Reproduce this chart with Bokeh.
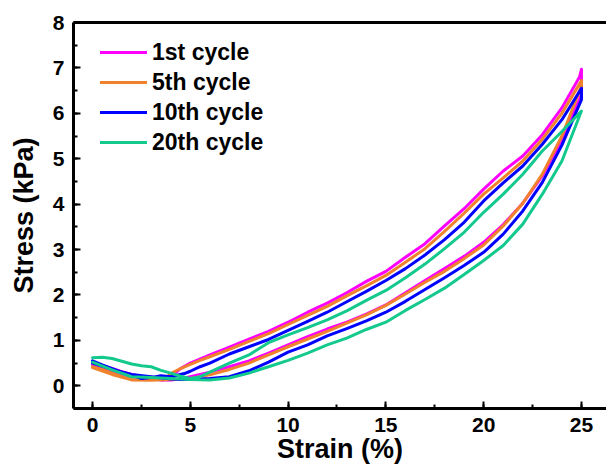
from bokeh.plotting import figure
from bokeh.models import (Range1d, SingleIntervalTicker, LinearAxis, FixedTicker,
                          Legend, LegendItem)
from bokeh.embed import file_html
from bokeh.resources import INLINE

# ---------------- data ----------------
series_names = ["1st cycle", "5th cycle", "10th cycle", "20th cycle"]
series_colors = ["#FF00FF", "#F0822E", "#0000FF", "#14C98E"]

unload_strain = [25, 24, 23, 22, 21, 20, 19, 18, 17, 16, 15, 14, 13, 12, 11, 10, 9, 8, 7, 6, 5,
                 4.5, 4, 3, 2, 1, 0]

load_strain_1st = [0, 0.5, 1, 1.5, 2, 2.5, 3, 3.6, 4, 4.5, 5, 6, 7, 8, 9, 10, 11, 12, 13, 14,
                   15, 16, 17, 18, 19, 20, 21, 22, 23, 24, 24.9, 25]
load_stress_1st = [0.50, 0.44, 0.38, 0.31, 0.25, 0.20, 0.16, 0.12, 0.20, 0.38, 0.50, 0.68, 0.85,
                   1.03, 1.20, 1.40, 1.62, 1.82, 2.05, 2.30, 2.52, 2.83, 3.13, 3.52, 3.90, 4.33,
                   4.73, 5.06, 5.53, 6.12, 6.80, 6.97]
unload_stress_1st = [6.41, 5.42, 4.62, 4.02, 3.55, 3.16, 2.85, 2.58, 2.32, 2.05, 1.78, 1.58, 1.40,
                     1.25, 1.08, 0.90, 0.72, 0.55, 0.42, 0.30, 0.20, 0.15, 0.13, 0.15, 0.20, 0.32,
                     0.47]

load_strain_5th = [0, 0.5, 1, 1.5, 2, 2.5, 3, 3.7, 4, 4.5, 5, 5.5, 6, 7, 8, 9, 10, 11, 12, 13,
                   14, 15, 16, 17, 18, 19, 20, 21, 22, 23, 24, 25]
load_stress_5th = [0.42, 0.36, 0.28, 0.20, 0.14, 0.12, 0.12, 0.15, 0.27, 0.38, 0.47, 0.56, 0.64,
                   0.80, 0.98, 1.15, 1.35, 1.55, 1.75, 1.98, 2.20, 2.43, 2.72, 3.02, 3.40, 3.80,
                   4.22, 4.58, 4.95, 5.43, 6.00, 6.72]
unload_stress_5th = [6.60, 5.50, 4.66, 4.02, 3.52, 3.10, 2.80, 2.52, 2.28, 2.02, 1.77, 1.56, 1.38,
                     1.20, 1.03, 0.86, 0.68, 0.50, 0.36, 0.24, 0.16, 0.14, 0.14, 0.12, 0.13, 0.25,
                     0.40]

load_strain_10th = [0, 0.5, 1, 1.5, 2, 2.5, 3, 3.5, 4, 4.7, 5, 5.5, 6, 7, 8, 9, 10, 11, 12, 13,
                    14, 15, 16, 17, 18, 19, 20, 21, 22, 23, 24, 25]
load_stress_10th = [0.55, 0.46, 0.38, 0.30, 0.24, 0.16, 0.18, 0.22, 0.20, 0.27, 0.32, 0.42, 0.50,
                    0.70, 0.86, 1.02, 1.22, 1.42, 1.62, 1.85, 2.08, 2.32, 2.58, 2.88, 3.22, 3.60,
                    4.07, 4.47, 4.84, 5.32, 5.86, 6.55]
unload_stress_10th = [6.30, 5.30, 4.48, 3.85, 3.34, 2.94, 2.65, 2.38, 2.12, 1.86, 1.62, 1.43, 1.26,
                      1.10, 0.90, 0.74, 0.52, 0.33, 0.20, 0.16, 0.14, 0.14, 0.15, 0.20, 0.25, 0.36,
                      0.50]

load_strain_20th = [0, 0.5, 1, 1.5, 2, 2.5, 3, 3.5, 4, 4.5, 5, 5.5, 6, 7, 8, 9, 10, 11, 12, 13,
                    14, 15, 16, 17, 18, 19, 20, 21, 22, 23, 24, 25]
load_stress_20th = [0.62, 0.63, 0.60, 0.54, 0.48, 0.44, 0.42, 0.34, 0.28, 0.21, 0.16, 0.20, 0.30,
                    0.50, 0.68, 0.95, 1.12, 1.28, 1.45, 1.65, 1.88, 2.10, 2.38, 2.68, 3.02, 3.38,
                    3.82, 4.22, 4.66, 5.17, 5.60, 6.05]
unload_stress_20th = [6.05, 4.95, 4.22, 3.56, 3.09, 2.76, 2.45, 2.15, 1.90, 1.66, 1.40, 1.24, 1.05,
                      0.90, 0.72, 0.56, 0.42, 0.28, 0.17, 0.13, 0.14, 0.15, 0.16, 0.18, 0.20, 0.35,
                      0.52]

x_tick_interval = 5
y_tick_interval = 1
x_title = "Strain (%)"
y_title = "Stress (kPa)"

FONT = "Liberation Sans"

p = figure(width=606, height=466, x_range=Range1d(-0.971, 26.28), y_range=Range1d(-0.5, 8),
           output_backend="svg", toolbar_location=None,
           min_border_left=73, min_border_right=0, min_border_top=22, min_border_bottom=58)
p.outline_line_color = None
p.xgrid.grid_line_color = None
p.ygrid.grid_line_color = None
p.background_fill_color = "white"

p.xaxis.ticker = SingleIntervalTicker(interval=x_tick_interval, num_minor_ticks=2)
p.yaxis.ticker = SingleIntervalTicker(interval=y_tick_interval, num_minor_ticks=2)
for ax in (p.xaxis, p.yaxis):
    ax.axis_line_width = 3
    ax.axis_line_color = "black"
    ax.major_tick_in = 7
    ax.major_tick_out = 0
    ax.minor_tick_in = 4
    ax.minor_tick_out = 0
    ax.major_tick_line_width = 2
    ax.minor_tick_line_width = 2
    ax.major_label_text_font = FONT
    ax.major_label_text_font_style = "bold"
    ax.major_label_text_font_size = "21px"
    ax.major_label_text_color = "black"
    ax.axis_label_text_font = FONT
    ax.axis_label_text_font_style = "bold"
    ax.axis_label_text_font_size = "27px"
    ax.axis_label_text_color = "black"
p.xaxis.major_label_standoff = 9
p.yaxis.major_label_standoff = 9

p.yaxis.axis_label = y_title
p.yaxis.axis_label_standoff = 11
p.xaxis.axis_label = x_title
p.xaxis.axis_label_standoff = -1

top_axis = LinearAxis(ticker=FixedTicker(ticks=[]), axis_line_width=3,
                      major_tick_in=0, major_tick_out=0, minor_tick_in=0, minor_tick_out=0,
                      major_label_text_font_size="0px")
p.add_layout(top_axis, "above")

loads = [(load_strain_1st, load_stress_1st, unload_stress_1st),
         (load_strain_5th, load_stress_5th, unload_stress_5th),
         (load_strain_10th, load_stress_10th, unload_stress_10th),
         (load_strain_20th, load_stress_20th, unload_stress_20th)]

items = []
for name, color, (lx, ly, uy) in zip(series_names, series_colors, loads):
    xs = list(lx) + list(unload_strain)
    ys = list(ly) + list(uy)
    r = p.line(xs, ys, line_color=color, line_width=3, line_join="round", line_cap="round")
    items.append(LegendItem(label=name, renderers=[r]))

legend = Legend(items=items, location=(27, 251), padding=0, spacing=0,
                glyph_width=47, glyph_height=30, label_height=30, label_standoff=5,
                label_text_font=FONT, label_text_font_style="bold", label_text_font_size="23px",
                label_text_color="black",
                border_line_alpha=0, background_fill_alpha=0)
p.add_layout(legend)

open("out.html", "w").write(file_html(p, INLINE))
